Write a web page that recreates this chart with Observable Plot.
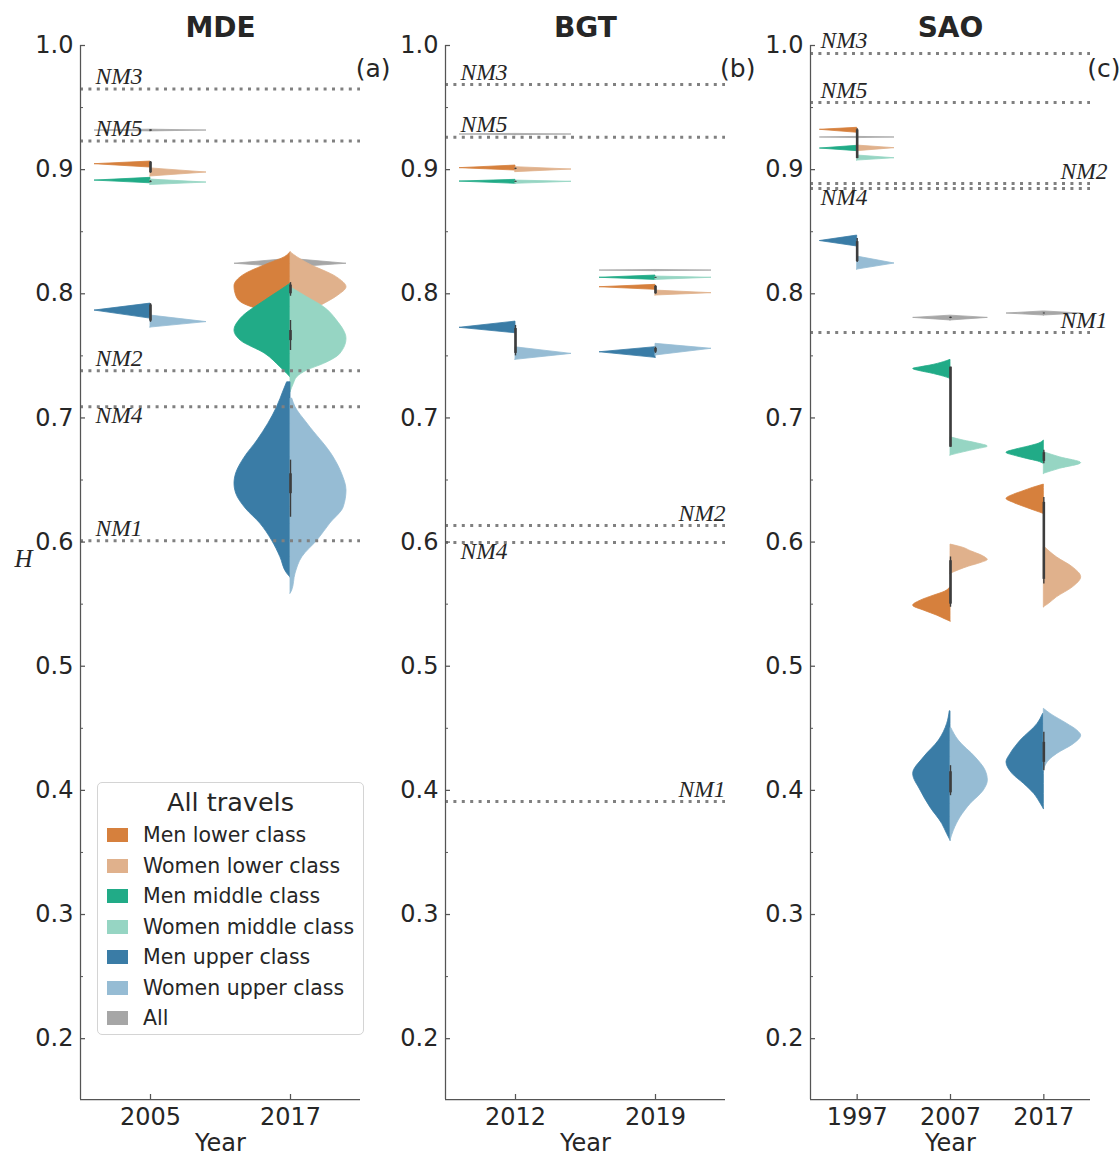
<!DOCTYPE html>
<html>
<head>
<meta charset="utf-8">
<script src="https://cdn.jsdelivr.net/npm/d3@7"></script>
<script src="https://cdn.jsdelivr.net/npm/@observablehq/plot@0.6"></script>
<style>
  body { margin: 0; background: #fff; }
  #wrap { position: relative; width: 1120px; height: 1155px; display: flex; }
  #wrap svg { flex: none; overflow: visible; }
  .legend { position: absolute; left: 97px; top: 782px; width: 267px; height: 253px; box-sizing: border-box;
    border: 1px solid #d4d4d4; border-radius: 5px; background: rgba(255,255,255,0.85);
    font-family: "DejaVu Sans"; color: #262626; z-index: 5; }
  .legend .lt { position: absolute; left: 0; right: 0; top: 4px; text-align: center; font-size: 25.5px; line-height: 30px; }
  .legend .row { position: absolute; left: 0; height: 30px; width: 100%; }
  .legend .sw { position: absolute; left: 9px; top: 8px; width: 21px; height: 14px; }
  .legend .lb { position: absolute; left: 45px; top: 0; line-height: 30px; font-size: 20.5px; white-space: nowrap; }
</style>
</head>
<body>
<div id="wrap"></div>
<script>
// ---------- categories & colours ----------
const groups = ["Men lower class", "Women lower class", "Men middle class", "Women middle class",
                "Men upper class", "Women upper class", "All"];
const groupColors = ["#d6803d", "#e0b18c", "#21ab87", "#96d5c3", "#3a7ca6", "#96bcd4", "#a6a6a6"];
const drawOrder = ["All", "Men lower class", "Women lower class", "Men middle class",
                   "Women middle class", "Men upper class", "Women upper class"];

// ---------- MDE ----------
const mdeYears = ["2005", "2017"];
// [year, group, profile [[H, relative width]]]
const mdeViolins = [
  ["2005", "All", [[0.9308,0],[0.9315,1],[0.9322,0]]],
  ["2005", "Men lower class", [[0.9017,0],[0.9044,1],[0.9065,0]]],
  ["2005", "Women lower class", [[0.8945,0],[0.8977,1],[0.9010,0]]],
  ["2005", "Men middle class", [[0.8890,0],[0.8912,1],[0.8934,0]]],
  ["2005", "Women middle class", [[0.8876,0],[0.8896,1],[0.8920,0]]],
  ["2005", "Men upper class", [[0.7800,0],[0.7865,1],[0.7921,0]]],
  ["2005", "Women upper class", [[0.7728,0],[0.7772,1],[0.7825,0]]],
  ["2017", "All", [[0.8211,0],[0.8242,1],[0.8282,0]]],
  ["2017", "Men lower class", [[0.765,0],[0.772,0.06],[0.779,0.2],[0.786,0.5],[0.7922,0.85],[0.7985,0.97],[0.806,1.0],[0.8146,0.85],[0.8242,0.39],[0.8295,0.1],[0.8335,0]]],
  ["2017", "Women lower class", [[0.765,0],[0.770,0.03],[0.777,0.12],[0.784,0.3],[0.7905,0.55],[0.7985,0.85],[0.8053,1.0],[0.8132,0.83],[0.8242,0.32],[0.8295,0.12],[0.8335,0]]],
  ["2017", "Men middle class", [[0.7328,0],[0.7355,0.06],[0.7408,0.18],[0.7516,0.45],[0.7623,0.89],[0.7704,1.0],[0.7798,0.89],[0.7946,0.45],[0.802,0.2],[0.8081,0]]],
  ["2017", "Women middle class", [[0.7207,0],[0.7275,0.06],[0.7328,0.12],[0.7382,0.3],[0.7436,0.6],[0.7516,0.89],[0.7637,1.0],[0.7784,0.83],[0.7892,0.6],[0.7972,0.3],[0.8053,0]]],
  ["2017", "Men upper class", [[0.5714,0],[0.5746,0.06],[0.5878,0.18],[0.6012,0.33],[0.6149,0.54],[0.627,0.8],[0.6391,0.97],[0.6471,1.0],[0.6552,0.97],[0.668,0.82],[0.6818,0.59],[0.7086,0.24],[0.7221,0.12],[0.7287,0.06]]],
  ["2017", "Women upper class", [[0.5585,0],[0.5609,0.03],[0.5746,0.09],[0.5878,0.21],[0.6012,0.48],[0.6149,0.71],[0.628,0.95],[0.6415,1.0],[0.655,0.92],[0.6683,0.77],[0.6955,0.30],[0.7086,0.09],[0.7156,0.03]]]
];
// [year, whisker low, q1, q3, whisker high]
const mdeBoxes = [
  ["2005", 0.897, 0.8975, 0.906, 0.9065],
  ["2005", 0.8895, 0.8900, 0.8905, 0.8910],
  ["2005", 0.777, 0.778, 0.791, 0.792],
  ["2005", 0.931, 0.931, 0.932, 0.932],
  ["2017", 0.798, 0.800, 0.807, 0.809],
  ["2017", 0.7543, 0.7623, 0.7704, 0.7785],
  ["2017", 0.620, 0.639, 0.655, 0.666]
];
// [name, H, label side, label above/below]
const mdeNM = [
  ["NM3", 0.965, "left", "above"],
  ["NM5", 0.923, "left", "above"],
  ["NM2", 0.738, "left", "above"],
  ["NM4", 0.709, "left", "below"],
  ["NM1", 0.601, "left", "above"]
];

// ---------- BGT ----------
const bgtYears = ["2012", "2019"];
const bgtViolins = [
  ["2012", "All", [[0.9278,0],[0.9283,1],[0.9288,0]]],
  ["2012", "Men lower class", [[0.8993,0],[0.9012,1],[0.9033,0]]],
  ["2012", "Women lower class", [[0.8980,0],[0.9001,1],[0.9020,0]]],
  ["2012", "Men middle class", [[0.8886,0],[0.8904,1],[0.8918,0]]],
  ["2012", "Women middle class", [[0.8886,0],[0.8902,1],[0.8912,0]]],
  ["2012", "Men upper class", [[0.7682,0],[0.7726,1],[0.7776,0]]],
  ["2012", "Women upper class", [[0.7468,0],[0.7516,1],[0.7569,0]]],
  ["2019", "All", [[0.8182,0],[0.8187,1],[0.8192,0]]],
  ["2019", "Men lower class", [[0.8032,0],[0.8053,1],[0.8072,0]]],
  ["2019", "Women lower class", [[0.7986,0],[0.8005,1],[0.8026,0]]],
  ["2019", "Men middle class", [[0.8112,0],[0.8129,1],[0.8147,0]]],
  ["2019", "Women middle class", [[0.8112,0],[0.8129,1],[0.8139,0]]],
  ["2019", "Men upper class", [[0.7484,0],[0.7529,1],[0.7570,0]]],
  ["2019", "Women upper class", [[0.7503,0],[0.7557,1],[0.7597,0]]]
];
const bgtBoxes = [
  ["2012", 0.9000, 0.9005, 0.9010, 0.9012],
  ["2012", 0.8898, 0.8900, 0.8905, 0.8907],
  ["2012", 0.750, 0.752, 0.772, 0.7745],
  ["2019", 0.7997, 0.800, 0.806, 0.8066],
  ["2019", 0.8125, 0.8127, 0.8131, 0.8133],
  ["2019", 0.752, 0.753, 0.756, 0.757]
];
const bgtNM = [
  ["NM3", 0.9686, "left", "above"],
  ["NM5", 0.926, "left", "above"],
  ["NM2", 0.6133, "right", "above"],
  ["NM4", 0.5996, "left", "below"],
  ["NM1", 0.391, "right", "above"]
];

// ---------- SAO ----------
const saoYears = ["1997", "2007", "2017"];
const saoViolins = [
  ["1997", "All", [[0.9254,0],[0.9259,1],[0.9264,0]]],
  ["1997", "Men lower class", [[0.9297,0],[0.9321,1],[0.9337,0]]],
  ["1997", "Women lower class", [[0.9149,0],[0.9173,1],[0.9194,0]]],
  ["1997", "Men middle class", [[0.9149,0],[0.9170,1],[0.9192,0]]],
  ["1997", "Women middle class", [[0.9073,0],[0.9092,1],[0.9114,0]]],
  ["1997", "Men upper class", [[0.8381,0],[0.8425,1],[0.8469,0]]],
  ["1997", "Women upper class", [[0.8195,0],[0.8244,1],[0.8300,0]]],
  ["2007", "All", [[0.7785,0],[0.7806,1],[0.7824,0]]],
  ["2007", "Men lower class", [[0.536,0],[0.5375,0.12],[0.5407,0.35],[0.5447,0.7],[0.5488,1.0],[0.5528,0.8],[0.5568,0.45],[0.5600,0.15],[0.5636,0]]],
  ["2007", "Women lower class", [[0.5744,0],[0.5776,0.25],[0.5803,0.5],[0.583,0.8],[0.5857,1.0],[0.5872,0.95],[0.5899,0.78],[0.5926,0.55],[0.5953,0.35],[0.598,0]]],
  ["2007", "Men middle class", [[0.7315,0],[0.7333,0.18],[0.736,0.54],[0.7376,0.8],[0.7395,1.0],[0.7408,0.8],[0.7422,0.54],[0.7449,0.18],[0.7468,0]]],
  ["2007", "Women middle class", [[0.6697,0],[0.6723,0.35],[0.6747,0.7],[0.6769,1.0],[0.6796,0.7],[0.6818,0.35],[0.6844,0]]],
  ["2007", "Men upper class", [[0.3596,0],[0.3648,0.09],[0.3729,0.22],[0.3863,0.54],[0.3998,0.8],[0.4133,1.0],[0.4266,0.71],[0.4401,0.31],[0.4535,0.09],[0.4637,0.02]]],
  ["2007", "Women upper class", [[0.3596,0],[0.3676,0.09],[0.3784,0.27],[0.3891,0.54],[0.3998,0.89],[0.4079,1.0],[0.4159,0.94],[0.4266,0.67],[0.4401,0.22],[0.4503,0.02]]],
  ["2017", "All", [[0.7825,0],[0.7841,1],[0.7858,0]]],
  ["2017", "Men lower class", [[0.6227,0],[0.6248,0.2],[0.6275,0.45],[0.6315,0.8],[0.6348,1.0],[0.6382,0.8],[0.6409,0.55],[0.6436,0.3],[0.6463,0]]],
  ["2017", "Women lower class", [[0.5475,0],[0.5501,0.13],[0.5555,0.35],[0.5636,0.78],[0.5717,1.0],[0.5796,0.78],[0.5877,0.35],[0.5958,0.03]]],
  ["2017", "Men middle class", [[0.663,0],[0.6649,0.15],[0.667,0.45],[0.6693,0.75],[0.6719,1.0],[0.6745,0.75],[0.677,0.4],[0.6794,0.12],[0.6818,0]]],
  ["2017", "Women middle class", [[0.655,0],[0.659,0.43],[0.6636,1.0],[0.6683,0.43],[0.6724,0]]],
  ["2017", "Men upper class", [[0.385,0],[0.3891,0.08],[0.3972,0.26],[0.4052,0.53],[0.4133,0.84],[0.4226,1.0],[0.4294,0.89],[0.4401,0.62],[0.4535,0.17],[0.4616,0.02]]],
  ["2017", "Women upper class", [[0.4159,0],[0.4186,0.03],[0.424,0.14],[0.4294,0.36],[0.4374,0.81],[0.4441,1.0],[0.4481,0.9],[0.4535,0.63],[0.4616,0.18],[0.4657,0]]]
];
const saoBoxes = [
  ["1997", 0.9165, 0.917, 0.932, 0.933],
  ["1997", 0.9088, 0.909, 0.917, 0.918],
  ["1997", 0.8252, 0.826, 0.842, 0.8445],
  ["2007", 0.780, 0.7803, 0.781, 0.7812],
  ["2007", 0.5475, 0.550, 0.585, 0.588],
  ["2007", 0.6764, 0.6764, 0.7409, 0.7409],
  ["2007", 0.3957, 0.398, 0.415, 0.4199],
  ["2017", 0.7838, 0.784, 0.7843, 0.7845],
  ["2017", 0.5663, 0.570, 0.632, 0.636],
  ["2017", 0.663, 0.665, 0.672, 0.674],
  ["2017", 0.4159, 0.4226, 0.4387, 0.4468]
];
const saoNM = [
  ["NM3", 0.9936, "left", "above"],
  ["NM5", 0.954, "left", "above"],
  ["NM2", 0.8888, "right", "above"],
  ["NM4", 0.8848, "left", "below"],
  ["NM1", 0.7688, "right", "above"]
];

// ---------- axis ticks ----------
const yMajorTicks = [0.2, 0.3, 0.4, 0.5, 0.6, 0.7, 0.8, 0.9, 1.0];
const yMinorTicks = [0.25, 0.35, 0.45, 0.55, 0.65, 0.75, 0.85, 0.95];
const yDomain = [0.151, 1.0];

const H = 1155, MT = 45, MB = 56, ML = 80;
const axisColor = "#555";
const textColor = "#262626";
const colorOf = g => groupColors[groups.indexOf(g)];

function panel({title, letter, years, violins, boxes, nm, marginRight, leftDx, rightDx, yLabel}) {
  const n = years.length;
  const plotW = 280;
  const width = ML + plotW + marginRight;
  const plotH = H - MT - MB;
  const marks = [];

  // violins (split: men left, women right, All both sides)
  for (const g of drawOrder) {
    for (const [year, grp, prof] of violins.filter(v => v[1] === g)) {
      const i = years.indexOf(year);
      const side = grp.startsWith("Men") ? -1 : grp.startsWith("Women") ? 1 : 0;
      const rows = prof.map(([h, w]) => ({h, w, i}));
      const c = colorOf(grp);
      marks.push(Plot.areaX(rows, {
        y: "h",
        x1: d => side === 1 ? d.i : d.i - 0.4 * d.w,
        x2: d => side === -1 ? d.i : d.i + 0.4 * d.w,
        fill: c, stroke: c, strokeWidth: 0.8,
        curve: rows.length > 4 ? "monotone-y" : "linear"
      }));
    }
  }

  // inner boxes
  const boxRows = boxes.map(([year, lo, q1, q3, hi]) => ({i: years.indexOf(year), lo, q1, q3, hi}));
  marks.push(Plot.ruleX(boxRows, {x: "i", y1: "lo", y2: "hi", stroke: "#3d3d3d", strokeWidth: 1.4}));
  marks.push(Plot.ruleX(boxRows, {x: "i", y1: "q1", y2: "q3", stroke: "#3d3d3d", strokeWidth: 2.6}));

  // NM reference lines
  const nmRows = nm.map(([name, h, side, pos]) => ({name, h, side, pos}));
  marks.push(Plot.ruleY(nmRows, {y: "h", stroke: "#808080", strokeWidth: 3, strokeDasharray: "3,5.4"}));
  const lblStyle = {y: "h", text: "name", fontFamily: "Liberation Serif", fontStyle: "italic", fontSize: 23.5,
                    fill: textColor, lineAnchor: "middle"};
  for (const [side, anchor, dx] of [["left", "start", leftDx], ["right", "end", rightDx]]) {
    for (const [pos, dy] of [["above", -12.5], ["below", 8.5]]) {
      const sel = nmRows.filter(d => d.side === side && d.pos === pos);
      if (sel.length) marks.push(Plot.text(sel, {...lblStyle, frameAnchor: side, textAnchor: anchor, dx, dy}));
    }
  }

  // spines and ticks (ticks point inward)
  marks.push(Plot.ruleX([-0.5], {stroke: axisColor, strokeWidth: 1.25}));
  marks.push(Plot.ruleY([yDomain[0]], {stroke: axisColor, strokeWidth: 1.25}));
  marks.push(Plot.tickY(yMajorTicks, {y: d => d, insetRight: plotW - 5, stroke: axisColor, strokeWidth: 1.25}));
  marks.push(Plot.tickY(yMinorTicks, {y: d => d, insetRight: plotW - 3, stroke: axisColor, strokeWidth: 1}));
  marks.push(Plot.tickX(d3.range(n), {x: d => d, insetTop: plotH - 5, stroke: axisColor, strokeWidth: 1.25}));
  marks.push(Plot.axisY({ticks: yMajorTicks, tickSize: 0, tickPadding: 7, tickFormat: d3.format(".1f"), label: null, fill: textColor}));
  marks.push(Plot.axisX({ticks: d3.range(n), tickSize: 0, tickPadding: 8, tickFormat: i => years[i], label: null, fill: textColor}));

  // texts
  marks.push(Plot.text([title], {text: d => d, frameAnchor: "top", dy: -17, lineAnchor: "middle",
    fontSize: 28, fontWeight: "bold", fill: textColor}));
  marks.push(Plot.text([letter], {text: d => d, frameAnchor: "top-right", dx: 30, dy: 23, textAnchor: "end",
    lineAnchor: "middle", fontSize: 25, fill: textColor}));
  marks.push(Plot.text(["Year"], {text: d => d, frameAnchor: "bottom", dy: 44, lineAnchor: "middle",
    fontSize: 24, fill: textColor}));
  if (yLabel) marks.push(Plot.text([yLabel], {text: d => d, frameAnchor: "left", dx: -66, dy: -14,
    lineAnchor: "middle", fontFamily: "Liberation Serif", fontStyle: "italic", fontSize: 25, fill: textColor}));

  return Plot.plot({
    width, height: H, marginLeft: ML, marginRight, marginTop: MT, marginBottom: MB,
    x: {domain: [-0.5, n - 0.5]},
    y: {domain: yDomain},
    style: {fontFamily: "DejaVu Sans", fontSize: "24px", color: textColor, background: "transparent", overflow: "visible"},
    marks
  });
}

const wrap = document.getElementById("wrap");
wrap.appendChild(panel({title: "MDE", letter: "(a)", years: mdeYears, violins: mdeViolins, boxes: mdeBoxes,
  nm: mdeNM, marginRight: 5, leftDx: 15, rightDx: 0, yLabel: "H"}));
wrap.appendChild(panel({title: "BGT", letter: "(b)", years: bgtYears, violins: bgtViolins, boxes: bgtBoxes,
  nm: bgtNM, marginRight: 5, leftDx: 15, rightDx: 0}));
wrap.appendChild(panel({title: "SAO", letter: "(c)", years: saoYears, violins: saoViolins, boxes: saoBoxes,
  nm: saoNM, marginRight: 30, leftDx: 10, rightDx: 17}));

// legend
const legend = document.createElement("div");
legend.className = "legend";
legend.innerHTML = `<div class="lt">All travels</div>` + groups.map((g, i) =>
  `<div class="row" style="top:${52 + 30.5 * i - 15}px"><span class="sw" style="background:${groupColors[i]}"></span><span class="lb">${g}</span></div>`
).join("");
wrap.appendChild(legend);
</script>
</body>
</html>
